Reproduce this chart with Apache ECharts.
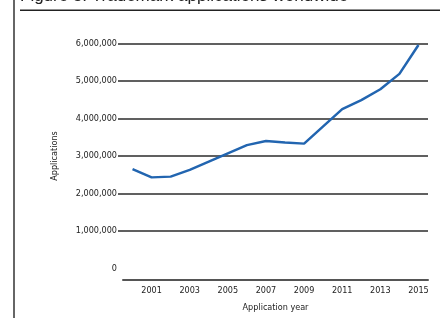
<!DOCTYPE html>
<html>
<head>
<meta charset="utf-8">
<script src="https://cdn.jsdelivr.net/npm/echarts@6/dist/echarts.min.js"></script>
<style>
  html, body { margin: 0; padding: 0; background: #fff; }
  #chart { width: 440px; height: 318px; }
</style>
</head>
<body>
<div id="chart"></div>
<script>
const years = ['2000', '2001', '2002', '2003', '2004', '2005', '2006', '2007',
  '2008', '2009', '2010', '2011', '2012', '2013', '2014', '2015'];
const applications = [2650000, 2430000, 2450000, 2630000, 2850000, 3070000, 3290000, 3400000,
  3360000, 3330000, 3790000, 4250000, 4490000, 4780000, 5190000, 5960000];
const gridTicks = [1000000, 2000000, 3000000, 4000000, 5000000, 6000000];

const narrow = "'Liberation Sans Narrow', 'Arial Narrow', 'DejaVu Sans Condensed', sans-serif";
const gridColor = '#2b2b2b';

const chart = echarts.init(document.getElementById('chart'), null, { renderer: 'canvas' });

chart.setOption({
  backgroundColor: '#fff',
  animation: false,
  graphic: [
    { type: 'rect', shape: { x: 13, y: 0, width: 2, height: 318 }, style: { fill: '#666' } },
    { type: 'rect', shape: { x: 20, y: 9.5, width: 420, height: 1.5 }, style: { fill: '#222' } },
    {
      type: 'text', left: 20, top: -12,
      style: {
        text: 'Figure 3: Trademark applications worldwide',
        font: "17px 'Liberation Sans', Arial, sans-serif",
        fill: '#222',
      },
    },
  ],
  grid: { left: 123, right: 12, top: 43.5, bottom: 49.5 },
  xAxis: {
    type: 'category',
    data: years,
    boundaryGap: true,
    offset: 11,
    axisLine: { onZero: false, lineStyle: { color: '#555', width: 2 } },
    axisTick: { show: false },
    axisLabel: {
      interval: (i) => i % 2 === 1,
      color: '#222', fontSize: 9, fontFamily: narrow, margin: 7,
    },
    name: 'Application year',
    nameLocation: 'middle',
    nameGap: 24,
    nameTextStyle: { color: '#222', fontSize: 9, fontFamily: narrow },
  },
  yAxis: {
    type: 'value',
    min: 0,
    max: 6000000,
    interval: 1000000,
    axisLine: { show: false },
    axisTick: {
      show: true, length: 5, customValues: gridTicks,
      lineStyle: { color: gridColor, width: 1.5 },
    },
    splitLine: { lineStyle: { color: gridColor, width: 1.5 } },
    axisLabel: {
      color: '#222', fontSize: 9, fontFamily: narrow, margin: 6,
      formatter: v => v.toLocaleString('en-US'),
    },
    name: 'Applications',
    nameLocation: 'middle',
    nameGap: 64,
    nameTextStyle: { color: '#222', fontSize: 9, fontFamily: narrow },
  },
  series: [
    {
      name: 'Applications',
      type: 'line',
      data: applications,
      showSymbol: false,
      lineStyle: { color: '#2265b0', width: 2.5 },
    },
  ],
});
</script>
</body>
</html>
